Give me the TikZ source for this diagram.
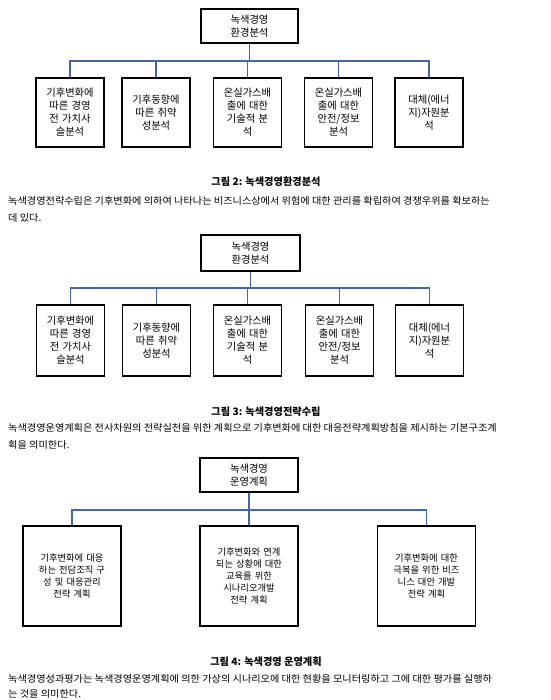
\documentclass[tikz,border=0pt]{standalone}
\usepackage{fontspec}
\setmainfont{Noto Sans CJK KR}
\begin{document}
\begin{tikzpicture}[x=1pt,y=-1pt,
  box/.style={draw=black,line width=1.8pt,align=center,inner sep=1pt,
    font=\fontsize{10.3}{13}\selectfont},
  topbox/.style={box,minimum width=97pt,minimum height=34pt},
  smallbox/.style={box,minimum width=68pt,minimum height=69pt,text width=62pt},
  bigbox/.style={box,minimum width=98pt,minimum height=100pt,text width=94pt,
    font=\fontsize{9.3}{12}\selectfont},
  conn/.style={draw={rgb,255:red,70;green,100;blue,170},line width=1.5pt},
  figcap/.style={font=\fontsize{10.2}{12}\selectfont\bfseries,anchor=center},
  para/.style={font=\fontsize{9.6}{11}\selectfont,anchor=west,inner sep=0pt}]
\path[use as bounding box,fill=white] (0,0) rectangle (550,700);
\newcommand{\widen}[1]{\scalebox{1.06}[1]{#1}}

% ---------- Diagram 1 ----------
\node[topbox] (t1) at (249.5,26) {녹색경영\\환경분석};
\node[smallbox] (a1) at (70,112.5) {기후변화에\\따른 경영\\전 가치사\\슬분석};
\node[smallbox] (a2) at (156,112.5) {기후동향에\\따른 취약\\성분석};
\node[smallbox] (a3) at (247.5,112.5) {온실가스배\\출에 대한\\기술적 분\\석};
\node[smallbox] (a4) at (338.5,112.5) {온실가스배\\출에 대한\\안전/정보\\분석};
\node[smallbox] (a5) at (429,112.5) {대체(에너\\지)자원분\\석};
\coordinate (h1) at (249.5,61);
\draw[conn] (t1.south) -- (h1);
\draw[conn] (a1.north) |- (h1) -| (a5.north);
\draw[conn] (a2.north) -- (a2.north |- h1);
\draw[conn] (a3.north) -- (a3.north |- h1);
\draw[conn] (a4.north) -- (a4.north |- h1);
\node[figcap] (c1) at (266,182) {그림 2: 녹색경영환경분석};
\node[para] (p1a) at (8,201) {\widen{녹색경영전략수립은 기후변화에 의하여 나타나는 비즈니스상에서 위험에 대한 관리를 확립하여 경쟁우위를 확보하는}};
\node[para] (p1b) at (8,218) {\widen{데 있다.}};

% ---------- Diagram 2 ----------
\node[topbox,minimum width=99pt,minimum height=36pt] (t2) at (250.5,253) {녹색경영\\환경분석};
\node[smallbox,minimum height=71pt] (b1) at (70.5,340.5) {기후변화에\\따른 경영\\전 가치사\\슬분석};
\node[smallbox,minimum height=71pt] (b2) at (156.5,340.5) {기후동향에\\따른 취약\\성분석};
\node[smallbox,minimum height=71pt] (b3) at (247.5,340.5) {온실가스배\\출에 대한\\기술적 분\\석};
\node[smallbox,minimum height=71pt] (b4) at (339.5,340.5) {온실가스배\\출에 대한\\안전/정보\\분석};
\node[smallbox,minimum height=71pt] (b5) at (429.5,340.5) {대체(에너\\지)자원분\\석};
\coordinate (h2) at (250.5,288);
\draw[conn] (t2.south) -- (h2);
\draw[conn] (b1.north) |- (h2) -| (b5.north);
\draw[conn] (b2.north) -- (b2.north |- h2);
\draw[conn] (b3.north) -- (b3.north |- h2);
\draw[conn] (b4.north) -- (b4.north |- h2);
\node[figcap] (c2) at (266,412) {그림 3: 녹색경영전략수립};
\node[para] (p2a) at (8,428) {\widen{녹색경영운영계획은 전사차원의 전략실천을 위한 계획으로 기후변화에 대한 대응전략계획방침을 제시하는 기본구조계}};
\node[para] (p2b) at (8,445) {\widen{획을 의미한다.}};

% ---------- Diagram 3 ----------
\node[topbox,minimum width=98pt] (t3) at (249,475) {녹색경영\\운영계획};
\node[bigbox] (d1) at (72,576) {기후변화에 대응\\하는 전담조직 구\\성 및 대응관리\\전략 계획};
\node[bigbox] (d2) at (249,576) {기후변화와 연계\\되는 상황에 대한\\교육를 위한\\시나리오개발\\전략 계획};
\node[bigbox] (d3) at (426.5,576) {기후변화에 대한\\극복을 위한 비즈\\니스 대안 개발\\전략 계획};
\coordinate (h3) at (249,510);
\draw[conn] (t3.south) -- (h3);
\draw[conn] (d1.north) |- (h3) -| (d3.north);
\draw[conn] (d2.north) -- (d2.north |- h3);
\node[figcap] (c3) at (266,662) {그림 4: 녹색경영 운영계획};
\node[para] (p3a) at (8,679) {\widen{녹색경영성과평가는 녹색경영운영계획에 의한 가상의 시나리오에 대한 현황을 모니터링하고 그에 대한 평가를 실행하}};
\node[para] (p3b) at (8,694) {\widen{는 것을 의미한다.}};
\end{tikzpicture}
\end{document}
